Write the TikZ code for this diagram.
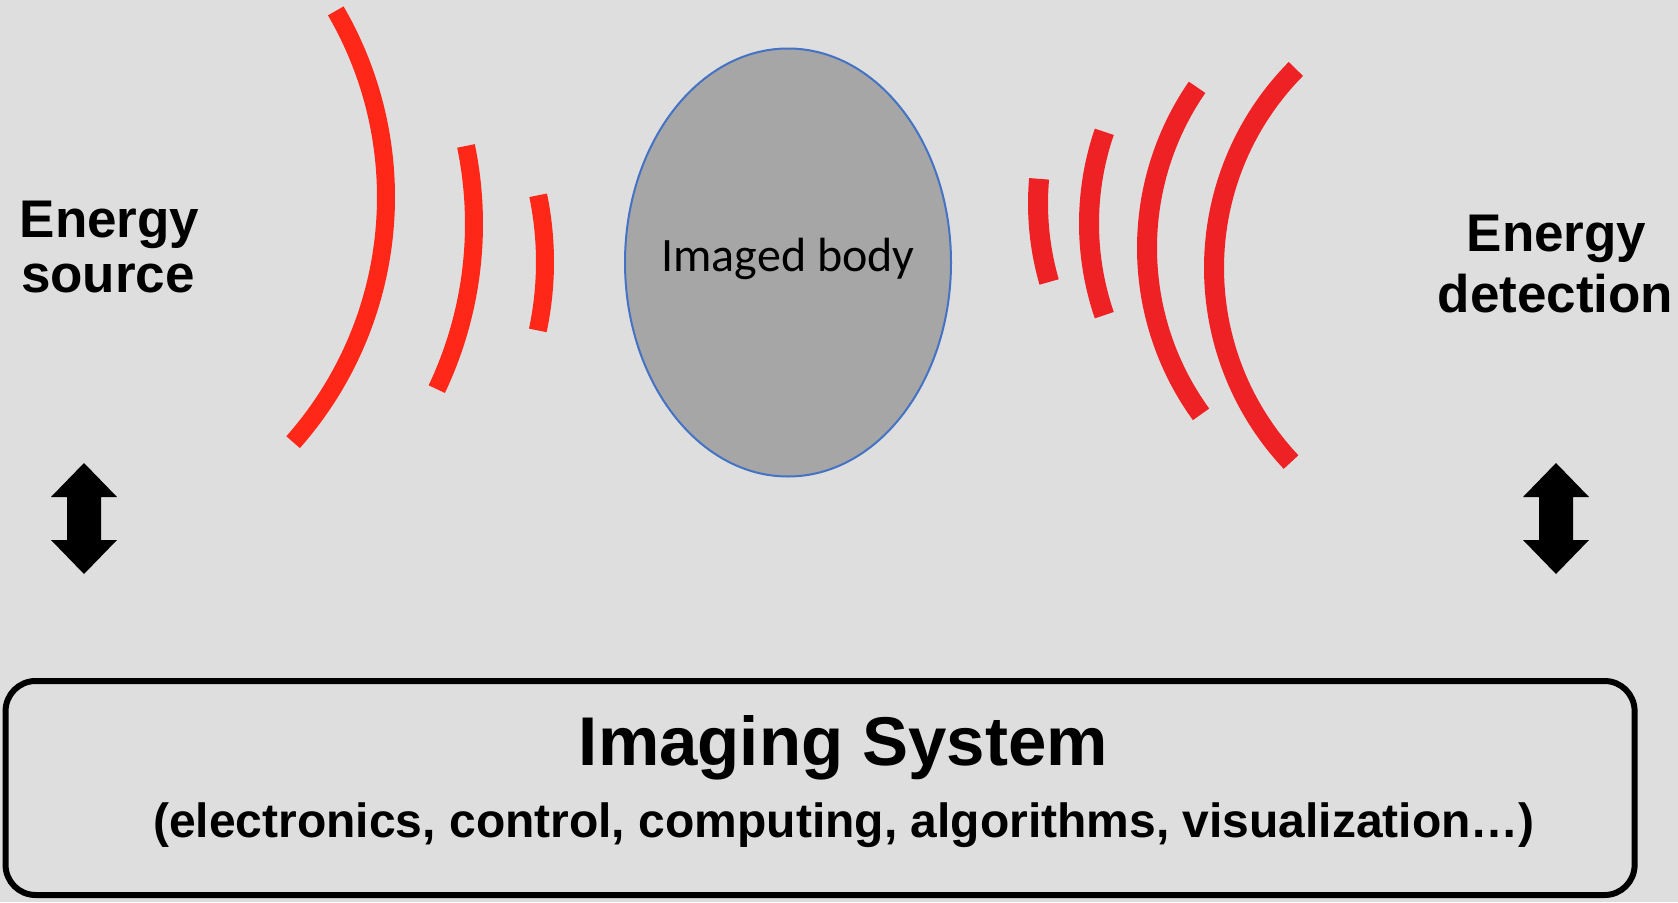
\documentclass[tikz,border=0pt]{standalone}
\usepackage{fontspec}
\setmainfont{Liberation Sans}
\newfontfamily\calibrifont{Carlito}
\usetikzlibrary{shapes.geometric}
\definecolor{bgcol}{RGB}{222,222,222}
\definecolor{bodyfill}{RGB}{166,166,166}
\definecolor{bodyline}{RGB}{68,114,196}
\definecolor{wavel}{RGB}{255,40,24}
\definecolor{waver}{RGB}{238,34,36}
\begin{document}
\begin{tikzpicture}[x=1pt,y=-1pt,
  lbl/.style={font=\fontsize{53}{55}\selectfont\bfseries, anchor=base, inner sep=0pt},
  wleft/.style={wavel, line width=18pt},
  wright/.style={waver, line width=20pt},
  blockarrow/.style={fill=black}]
% background / bounding box
\fill[bgcol] (0,0) rectangle (1678,902);
\useasboundingbox (0,0) rectangle (1678,902);

% imaged body
\node[ellipse, draw=bodyline, line width=2pt, fill=bodyfill,
      minimum width=326pt, minimum height=428pt, inner sep=0pt] (body) at (788,262.5) {};
\node[font=\calibrifont\fontsize{48}{50}\selectfont, anchor=base, inner sep=0pt] (bodytext) at (788,271) {Imaged body};

% waves from source
\draw[wleft] plot[domain=-41.5:30.2, samples=90, variable=\t] ({16+370*cos(\t)},{197-370*sin(\t)});
\draw[wleft] plot[domain=-25.4:11.7, samples=60, variable=\t] ({89+385*cos(\t)},{224-385*sin(\t)});
\draw[wleft] plot[domain=-12:11.7, samples=40, variable=\t] ({216+329*cos(\t)},{262-329*sin(\t)});

% waves to detector
\draw[wright] plot[domain=175:196.1, samples=40, variable=\t] ({1321+283*cos(\t)},{203.5-283*sin(\t)});
\draw[wright] plot[domain=161.1:198.9, samples=60, variable=\t] ({1372+283*cos(\t)},{223.5-283*sin(\t)});
\draw[wright] plot[domain=145.4:216, samples=80, variable=\t] ({1430+283*cos(\t)},{248-283*sin(\t)});
\draw[wright] plot[domain=135.3:223.3, samples=90, variable=\t] ({1497+283*cos(\t)},{268-283*sin(\t)});

% labels
\node[lbl] (srcA) at (109.5,237) {Energy};
\node[lbl] (srcB) at (108,292) {source};
\node[lbl] (detA) at (1556.5,251) {Energy};
\node[lbl] (detB) at (1555.5,312) {detection};

% double arrows
\fill[blockarrow] (84,463) -- (117,497) -- (101,497) -- (101,540) -- (117,540) -- (84,574)
  -- (51,540) -- (67,540) -- (67,497) -- (51,497) -- cycle;
\fill[blockarrow] (1556,463) -- (1589,497) -- (1573,497) -- (1573,540) -- (1589,540) -- (1556,574)
  -- (1523,540) -- (1539,540) -- (1539,497) -- (1523,497) -- cycle;

% imaging system box
\node[draw=black, line width=6pt, rounded corners=30pt, inner sep=0pt,
      minimum width=1629pt, minimum height=214pt] (sysbox) at (820.1,788) {};
\node[font=\fontsize{69}{72}\selectfont\bfseries, anchor=base, inner sep=0pt] (sysT) at (843.5,765) {Imaging System};
\node[font=\fontsize{48}{50}\selectfont\bfseries, anchor=base, inner sep=0pt] (sysS) at (844,837) {(electronics, control, computing, algorithms, visualization…)};
\end{tikzpicture}
\end{document}
